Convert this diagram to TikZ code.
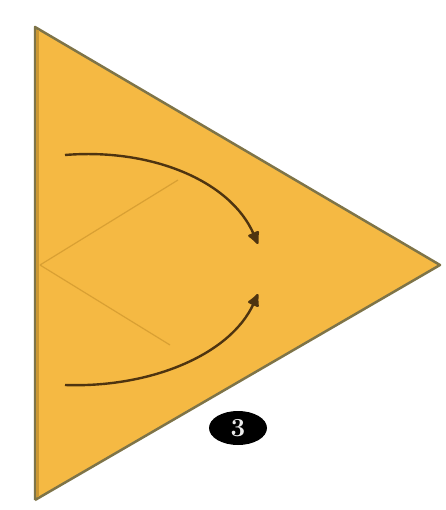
\documentclass[tikz,border=0pt]{standalone}
\usetikzlibrary{arrows.meta,shapes.geometric}
\definecolor{paper}{HTML}{F5B943}
\definecolor{edge}{HTML}{7E7448}
\definecolor{fold}{HTML}{D9A033}
\definecolor{arrowc}{HTML}{4E3410}
\tikzset{
  foldline/.style={draw=fold, line width=1.2pt},
  movearrow/.style={draw=arrowc, line width=2.4pt, -{Latex[length=15pt,width=14pt,round]}},
  stepnum/.style={ellipse, fill=black, text=white!85!gray, inner sep=0pt, minimum width=58pt, minimum height=34pt, font=\bfseries\fontsize{26}{26}\selectfont}
}
\begin{document}
\begin{tikzpicture}[x=1pt,y=-1pt]
\useasboundingbox (0,0) rectangle (445,510);
\fill[white] (0,0) rectangle (445,510);
\coordinate (tl) at (35,27);
\coordinate (bl) at (35,500);
\coordinate (ap) at (440,265);
\fill[paper] (tl) -- (ap) -- (bl) -- cycle;
\draw[edge, line width=2.5pt, line join=round] (bl) -- (tl) -- (ap) -- (bl);
\draw[fold!80!black!60!paper, line width=3pt] (37,30) -- (37,497);
% faint fold lines
\coordinate (fl) at (40,265);
\coordinate (fu) at (178,180);
\coordinate (fd) at (170,345);
\draw[foldline] (fl) -- (fu);
\draw[foldline] (fl) -- (fd);
% arrows
\coordinate (a1s) at (65,155);
\coordinate (a1e) at (258,244);
\coordinate (a2s) at (65,385);
\coordinate (a2e) at (258,294);
\draw[movearrow] (a1s) .. controls (150,148) and (230,180) .. (a1e);
\draw[movearrow] (a2s) .. controls (150,388) and (230,355) .. (a2e);
% step number
\node[stepnum] (n3) at (238,428) {3};
\end{tikzpicture}
\end{document}
